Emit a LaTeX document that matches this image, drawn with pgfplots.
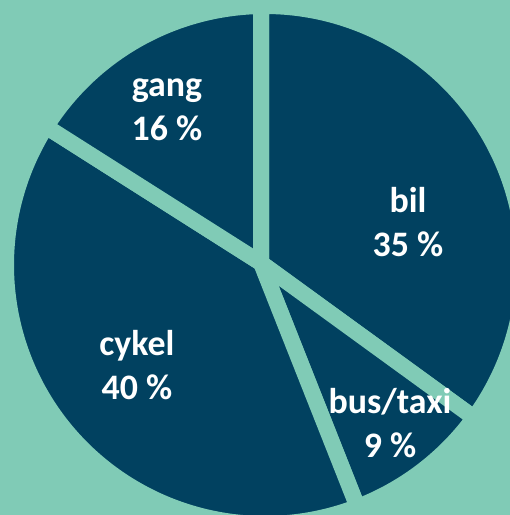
\documentclass[border=0pt]{standalone}
\usepackage{pgfplots}
\pgfplotsset{compat=1.18}
\usepackage{pgfplotstable}
\usepackage{fontspec}
\setmainfont{Carlito}
\definecolor{navy}{RGB}{1,65,96}
\definecolor{mint}{RGB}{128,203,182}
\pgfplotstableread{
name value
bil 35
bus 9
cykel 40
gang 16
}\piedata
% apex of the slices (P) and centre of the outer arc (C), axis units (1 unit = 1bp)
\def\Px{261}\def\Py{252}
\def\Cx{265}\def\Cy{250}
\def\Rr{259}
\newcommand\arcang[2]{%
  \pgfmathsetmacro\Dx{(\Px-\Cx)/100}\pgfmathsetmacro\Dy{(\Py-\Cy)/100}%
  \pgfmathsetmacro\Rs{\Rr/100}%
  \pgfmathsetmacro\ux{cos(#1)}\pgfmathsetmacro\uy{sin(#1)}%
  \pgfmathsetmacro\du{\Dx*\ux+\Dy*\uy}%
  \pgfmathsetmacro\tpar{-\du+sqrt(\du*\du-(\Dx*\Dx+\Dy*\Dy)+\Rs*\Rs)}%
  \pgfmathsetmacro\qx{\Dx+\tpar*\ux}\pgfmathsetmacro\qy{\Dy+\tpar*\uy}%
  \pgfmathsetmacro#2{atan2(\qy,\qx)}}
\begin{document}
\begin{tikzpicture}
\pgfplotstablegetelem{0}{value}\of\piedata \let\vA\pgfplotsretval
\pgfplotstablegetelem{1}{value}\of\piedata \let\vB\pgfplotsretval
\pgfplotstablegetelem{2}{value}\of\piedata \let\vC\pgfplotsretval
\pgfplotstablegetelem{3}{value}\of\piedata \let\vD\pgfplotsretval
\pgfmathsetmacro\aA{90}
\pgfmathsetmacro\bA{\aA-3.6*\vA}
\pgfmathsetmacro\bB{\bA-3.6*\vB}
\pgfmathsetmacro\bC{\bB-3.6*\vC}
\arcang{\aA}{\gA}
\arcang{\bA}{\gB}
\arcang{\bB}{\gC}
\arcang{\bC}{\gD}
\pgfmathsetmacro\gDm{\gD-360}
\begin{axis}[
  scale only axis, width=510bp, height=515bp,
  xmin=0, xmax=510, ymin=0, ymax=515,
  hide axis,
  wedge/.style={fill=navy, draw=mint, line width=16bp, line join=round, samples=120, smooth},
]
\fill[mint] (rel axis cs:0,0) rectangle (rel axis cs:1,1);
\addplot[wedge, domain=\gB:\gA] ({\Cx+\Rr*cos(x)},{\Cy+\Rr*sin(x)}) -- (axis cs:\Px,\Py) -- cycle;
\addplot[wedge, domain=\gC:\gB] ({\Cx+\Rr*cos(x)},{\Cy+\Rr*sin(x)}) -- (axis cs:\Px,\Py) -- cycle;
\addplot[wedge, domain=\gDm:\gC] ({\Cx+\Rr*cos(x)},{\Cy+\Rr*sin(x)}) -- (axis cs:\Px,\Py) -- cycle;
\addplot[wedge, domain=\gA:\gD] ({\Cx+\Rr*cos(x)},{\Cy+\Rr*sin(x)}) -- (axis cs:\Px,\Py) -- cycle;
\begin{scope}[every node/.style={text=white, font=\bfseries\fontsize{36}{44}\selectfont, align=center, inner sep=0pt}]
\node at (axis cs:167,405) {gang\\16 \%};
\node at (axis cs:408,293) {bil\\35 \%};
\node at (axis cs:137,150) {cykel\\40 \%};
\node at (axis cs:390,92) {bus/taxi\\9 \%};
\end{scope}
\end{axis}
\end{tikzpicture}
\end{document}
